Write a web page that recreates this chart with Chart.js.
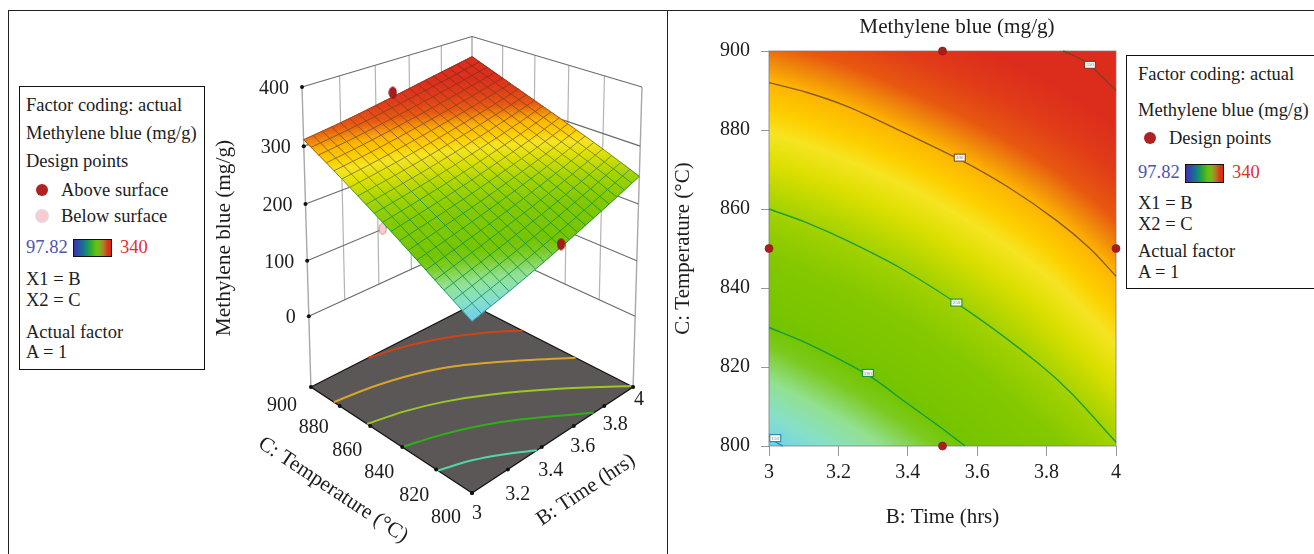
<!DOCTYPE html>
<html>
<head>
<meta charset="utf-8">
<title>Methylene blue response surface</title>
<script src="https://cdn.jsdelivr.net/npm/chart.js@4"></script>
<style>
html,body{margin:0;padding:0;background:#fff;width:1314px;height:554px;overflow:hidden}
canvas{position:absolute;top:0}
.rule{position:absolute;background:#222}
.box{position:absolute;border:1px solid #111;background:#fff;box-sizing:border-box}
.t{position:absolute;font:18.5px/20px "Liberation Serif",serif;color:#1c1c1c;white-space:nowrap;transform:translateY(-50%)}
.dot{position:absolute;width:12px;height:12px;border-radius:50%;transform:translate(-50%,-50%)}
.ramp{position:absolute;border:1px solid #111;box-sizing:border-box;background:linear-gradient(to right,#3438a8 0%,#2c50a8 14%,#108a78 32%,#30a830 45%,#66c010 60%,#78b818 68%,#b07a30 80%,#d83c18 90%,#d42818 100%)}
</style>
</head>
<body>
<canvas id="surface3d" width="667" height="554" style="left:0"></canvas>
<canvas id="contour2d" width="578" height="554" style="left:668px"></canvas>

<div class="rule" style="left:8px;top:10px;width:1306px;height:1px"></div>
<div class="rule" style="left:8px;top:10px;width:1px;height:544px"></div>
<div class="rule" style="left:667px;top:10px;width:1px;height:544px"></div>

<div class="box" style="left:19px;top:86px;width:186px;height:284px"></div>
<div class="t" style="left:26px;top:105px">Factor coding: actual</div>
<div class="t" style="left:26px;top:133px">Methylene blue (mg/g)</div>
<div class="t" style="left:26px;top:161px">Design points</div>
<div class="dot" style="left:42px;top:190px;background:#b02222"></div>
<div class="t" style="left:61px;top:190px">Above surface</div>
<div class="dot" style="left:42px;top:216px;background:#f9ccd2;box-shadow:0 0 0 1px #ddd"></div>
<div class="t" style="left:61px;top:216px">Below surface</div>
<div class="t" style="left:26px;top:247px;color:#4c54b4">97.82</div>
<div class="ramp" style="left:73px;top:239px;width:39px;height:18px"></div>
<div class="t" style="left:120px;top:247px;color:#e03030">340</div>
<div class="t" style="left:26px;top:279px">X1 = B</div>
<div class="t" style="left:26px;top:300px">X2 = C</div>
<div class="t" style="left:26px;top:332px">Actual factor</div>
<div class="t" style="left:26px;top:352px">A = 1</div>

<div class="box" style="left:1126px;top:55px;width:200px;height:234px"></div>
<div class="t" style="left:1138px;top:74px">Factor coding: actual</div>
<div class="t" style="left:1138px;top:110px">Methylene blue (mg/g)</div>
<div class="dot" style="left:1150px;top:138px;background:#b02222"></div>
<div class="t" style="left:1169px;top:138px">Design points</div>
<div class="t" style="left:1138px;top:172px;color:#4c54b4">97.82</div>
<div class="ramp" style="left:1185px;top:164px;width:39px;height:19px"></div>
<div class="t" style="left:1232px;top:172px;color:#e03030">340</div>
<div class="t" style="left:1138px;top:203px">X1 = B</div>
<div class="t" style="left:1138px;top:224px">X2 = C</div>
<div class="t" style="left:1138px;top:251px">Actual factor</div>
<div class="t" style="left:1138px;top:272px">A = 1</div>

<script>
// ---------- response values ----------
const timeTicks = [3, 3.2, 3.4, 3.6, 3.8, 4];
const tempTicks = [800, 820, 840, 860, 880, 900];
const heightTicks = [0, 100, 200, 300, 400];

const mbAt800 = [146, 163, 182, 203, 225, 248];
const mbAt820 = [181, 197, 214, 232, 252, 273];
const mbAt840 = [216, 229, 243, 259, 276, 296];
const mbAt860 = [249, 260, 272, 286, 301, 318];
const mbAt880 = [281, 290, 301, 313, 326, 340];
const mbAt900 = [311, 319, 329, 340, 351, 362];
const mbGrid = [mbAt800, mbAt820, mbAt840, mbAt860, mbAt880, mbAt900];

// contour plot (right panel)
const contourLevels = ['350', '300', '250', '200', '150'];
const c350B = [3.848, 3.916, 4];
const c350C = [900, 897, 890];
const c300B = [3, 3.11, 3.225, 3.35, 3.55, 3.69, 3.83, 3.925, 4];
const c300C = [892, 889.5, 886, 881, 872.5, 865.5, 857, 850, 843];
const c250B = [3, 3.11, 3.225, 3.38, 3.585, 3.775, 3.87, 4];
const c250C = [860, 856.5, 852, 845, 833.5, 821, 813.5, 801];
const c200B = [3, 3.11, 3.285, 3.395, 3.49, 3.565];
const c200C = [830, 826, 818, 811, 805, 800];
const c150B = [3, 3.02, 3.04];
const c150C = [802.5, 801, 800];
const contourLabelB = [3.925, 3.55, 3.54, 3.285, 3.018];
const contourLabelC = [896.5, 873, 836.3, 818.5, 802];

const designB = [3.5, 3, 4, 3.5];
const designC = [900, 850, 850, 800];

// 3D panel
const aboveB = [3.5, 3.5];
const aboveC = [900, 800];
const aboveMb = [342, 197];
const belowB = [3];
const belowC = [850];
const belowMb = [222];

// contours on the floor of the 3D panel
const floorLine1B = [3.33, 3.47, 3.61, 3.74, 3.88, 4];
const floorLine1C = [900, 896.5, 891.5, 885, 876, 866];
const floorLine2B = [3, 3.19, 3.38, 3.56, 3.75, 4];
const floorLine2C = [884, 881, 875.5, 867, 853.5, 833];
const floorLine3B = [3, 3.17, 3.34, 3.52, 3.76, 4];
const floorLine3C = [862, 857.5, 850.5, 840, 822, 801];
const floorLine4B = [3, 3.16, 3.32, 3.48, 3.73];
const floorLine4C = [840, 835, 828, 818.5, 800];
const floorLine5B = [3, 3.14, 3.26, 3.37];
const floorLine5C = [819, 814, 807.5, 800];

// ---------- colour scale ----------
const rampZ = [130, 146, 160, 175, 190, 200, 230, 250, 268, 280, 288, 300, 307, 315, 328, 342];
const rampRgb = [[96,188,236],[110,208,238],[134,224,200],[146,224,144],[124,202,32],[116,196,0],[132,200,0],[164,210,0],[220,223,0],[246,228,34],[253,208,0],[253,180,0],[240,138,10],[232,88,16],[224,60,24],[220,44,28]];
const meshZ = [146, 190, 245, 270, 300, 350];
const meshRgb = [[42,143,160],[16,152,58],[34,154,48],[122,138,32],[138,90,32],[138,42,24]];

function mapStops(z, zs, cs) {
  if (z <= zs[0]) return cs[0];
  for (let i = 1; i < zs.length; i++) {
    if (z <= zs[i]) {
      const f = (z - zs[i-1]) / (zs[i] - zs[i-1]);
      return cs[i-1].map((v, k) => v + (cs[i][k] - v) * f);
    }
  }
  return cs[cs.length - 1];
}
const rgb = c => 'rgb(' + c.map(Math.round).join(',') + ')';

// Display shading between the read grid values
function gridVal(i, j) {
  const nx = timeTicks.length, ny = tempTicks.length;
  if (j < 0) return 2 * gridVal(i, 0) - gridVal(i, 1);
  if (j >= ny) return 2 * gridVal(i, ny - 1) - gridVal(i, ny - 2);
  if (i < 0) return 2 * mbGrid[j][0] - mbGrid[j][1];
  if (i >= nx) return 2 * mbGrid[j][nx - 1] - mbGrid[j][nx - 2];
  return mbGrid[j][i];
}
const cr = (a, b, c, d, t) => 0.5 * (2*b + (c-a)*t + (2*a-5*b+4*c-d)*t*t + (3*b-a-3*c+d)*t*t*t);
function mbAt(B, C) {
  const u = (B - 3) / 0.2, v = (C - 800) / 20;
  const i = Math.max(0, Math.min(4, Math.floor(u))), j = Math.max(0, Math.min(4, Math.floor(v)));
  const tu = u - i, tv = v - j, r = [];
  for (let k = -1; k <= 2; k++) r.push(cr(gridVal(i-1, j+k), gridVal(i, j+k), gridVal(i+1, j+k), gridVal(i+2, j+k), tu));
  return cr(r[0], r[1], r[2], r[3], tv);
}

// ---------- 3D view ----------
const FLOOR = -130, SPAN = 530;
function view(B, C, Z) {
  const b = B - 3, c = (C - 800) / 100, t = (Z - FLOOR) / SPAN;
  const s = b + c, d = b - c, w = 1 + 0.146 * s - 0.06 * t;
  return { x: 472 + 184.6 * d / w, y: (493 - 49.5 * s - 349 * t) / w };
}
const zip = (B, C, Z) => B.map((v, i) => view(v, C[i], Z[i]));
const SERIF = '"Liberation Serif", serif';

function pathLine(label, pts, color, width) {
  return { label, data: pts, showLine: true, pointRadius: 0, borderColor: color, borderWidth: width, clip: false, tension: 0 };
}
function ellipseMark(fill, stroke) {
  const k = document.createElement('canvas');
  k.width = 9; k.height = 13;
  const g = k.getContext('2d');
  g.fillStyle = fill; g.strokeStyle = stroke; g.lineWidth = 1;
  g.beginPath(); g.ellipse(4.5, 6.5, 3.6, 5.6, 0, 0, 7); g.fill(); g.stroke();
  return k;
}

const ds3d = [];
const WALL_DARK = '#6a6a6a', WALL_LIGHT = '#b4b4b4';
// wall grid
timeTicks.slice(1, -1).forEach(v => ds3d.push(pathLine('wall', [view(v, 900, 0), view(v, 900, 400)], WALL_LIGHT, 1.2)));
tempTicks.slice(1, -1).forEach(v => ds3d.push(pathLine('wall', [view(4, v, 0), view(4, v, 400)], WALL_LIGHT, 1.2)));
ds3d.push(pathLine('edge', [view(3, 900, FLOOR), view(3, 900, 400)], '#a8a8a8', 1.4));
ds3d.push(pathLine('edge', [view(4, 900, FLOOR), view(4, 900, 400)], '#a8a8a8', 1.4));
ds3d.push(pathLine('edge', [view(4, 800, FLOOR), view(4, 800, 400)], '#a8a8a8', 1.4));
heightTicks.forEach(z => ds3d.push(pathLine('level', [view(3, 900, z), view(4, 900, z), view(4, 800, z)], WALL_DARK, 1.1)));
// floor
ds3d.push({ label: 'floor', data: [view(3, 800, FLOOR), view(4, 800, FLOOR), view(4, 900, FLOOR), view(3, 900, FLOOR), view(3, 800, FLOOR)],
  showLine: true, pointRadius: 0, borderColor: '#141414', borderWidth: 1.3, backgroundColor: '#5b5756', fill: 'shape', clip: false, tension: 0 });
const floorSets = [
  [floorLine1B, floorLine1C, '#cf4316'], [floorLine2B, floorLine2C, '#d8a62c'], [floorLine3B, floorLine3C, '#9cc826'],
  [floorLine4B, floorLine4C, '#2eb016'], [floorLine5B, floorLine5C, '#52d6a6']];
floorSets.forEach(f => { const d = pathLine('floor contour', zip(f[0], f[1], f[0].map(() => FLOOR)), f[2], 2); d.tension = 0.3; ds3d.push(d); });
// below-surface point, then the surface, then above-surface points and tick marks
ds3d.push({ label: 'Below surface', data: zip(belowB, belowC, belowMb), pointRadius: 6, pointStyle: ellipseMark('#f9ccd2', '#c98a92'), showLine: false, clip: false });
ds3d.push({ label: 'surface', data: [], pointRadius: 0, showLine: false, clip: false });
ds3d.push({ label: 'Above surface', data: zip(aboveB, aboveC, aboveMb), pointRadius: 6, pointStyle: ellipseMark('#a81c1c', '#7c1414'), showLine: false, clip: false });
ds3d.push({ label: 'ticks', data: heightTicks.map(z => view(3, 900, z))
    .concat(timeTicks.map(v => view(v, 800, FLOOR)))
    .concat(tempTicks.map(v => view(3, v, FLOOR))),
  pointRadius: 2, pointBackgroundColor: '#111', pointBorderWidth: 0, showLine: false, clip: false });
ds3d.forEach((d, i) => { d.order = ds3d.length - i; });

const MESH = 20, SUB = 3;
const surfacePlugin = {
  id: 'surfacePlugin',
  beforeDatasetDraw(chart, args) {
    if (chart.data.datasets[args.index].label !== 'surface') return;
    const ctx = chart.ctx, X = chart.scales.x, Y = chart.scales.y;
    const P = (B, C) => { const p = view(B, C, mbAt(B, C)); return [X.getPixelForValue(p.x), Y.getPixelForValue(p.y)]; };
    const n = MESH * SUB;
    ctx.save();
    ctx.lineWidth = 0.8;
    ctx.lineJoin = 'round';
    for (let i = n - 1; i >= 0; i--) for (let j = n - 1; j >= 0; j--) {
      const B0 = 3 + i / n, B1 = 3 + (i + 1) / n, C0 = 800 + 100 * j / n, C1 = 800 + 100 * (j + 1) / n;
      const a = P(B0, C0), b = P(B1, C0), c = P(B1, C1), d = P(B0, C1);
      const col = rgb(mapStops(mbAt((B0 + B1) / 2, (C0 + C1) / 2), rampZ, rampRgb));
      ctx.fillStyle = col; ctx.strokeStyle = col;
      ctx.beginPath(); ctx.moveTo(a[0], a[1]); ctx.lineTo(b[0], b[1]); ctx.lineTo(c[0], c[1]); ctx.lineTo(d[0], d[1]); ctx.closePath();
      ctx.fill(); ctx.stroke();
    }
    ctx.lineWidth = 0.9;
    for (let k = 0; k <= MESH; k++) for (let m = 0; m < MESH; m++) {
      const p1 = 3 + k / MESH, q0 = 800 + 100 * m / MESH, q1 = 800 + 100 * (m + 1) / MESH;
      const r0 = 3 + m / MESH, r1 = 3 + (m + 1) / MESH, s1 = 800 + 100 * k / MESH;
      const col1 = rgb(mapStops(mbAt(p1, (q0 + q1) / 2), meshZ, meshRgb));
      const a = P(p1, q0), b = P(p1, q1);
      ctx.strokeStyle = col1; ctx.beginPath(); ctx.moveTo(a[0], a[1]); ctx.lineTo(b[0], b[1]); ctx.stroke();
      const col2 = rgb(mapStops(mbAt((r0 + r1) / 2, s1), meshZ, meshRgb));
      const e = P(r0, s1), f = P(r1, s1);
      ctx.strokeStyle = col2; ctx.beginPath(); ctx.moveTo(e[0], e[1]); ctx.lineTo(f[0], f[1]); ctx.stroke();
    }
    ctx.restore();
  },
  afterDatasetsDraw(chart) {
    const ctx = chart.ctx, X = chart.scales.x, Y = chart.scales.y;
    ctx.save();
    ctx.fillStyle = '#1c1c1c';
    ctx.textBaseline = 'middle';
    ctx.font = '20px ' + SERIF;
    ctx.textAlign = 'right';
    heightTicks.forEach(z => { const p = view(3, 900, z); ctx.fillText(String(z), X.getPixelForValue(p.x) - 13, Y.getPixelForValue(p.y) + 1.5); });
    ctx.textAlign = 'center';
    const cOffX = [-26, -22, -23, -23, -26, -29], cOffY = [25, 26, 26, 25, 22, 19];
    tempTicks.forEach((v, i) => { const p = view(3, v, FLOOR); ctx.fillText(String(v), X.getPixelForValue(p.x) + cOffX[i], Y.getPixelForValue(p.y) + cOffY[i]); });
    const bOffX = [5, 10, 9, 9, 11, 6], bOffY = [21, 25, 24, 21, 19, 13];
    timeTicks.forEach((v, i) => { const p = view(v, 800, FLOOR); ctx.fillText(String(v), X.getPixelForValue(p.x) + bOffX[i], Y.getPixelForValue(p.y) + bOffY[i]); });
    const rotated = (txt, x, y, deg, size) => {
      ctx.save(); ctx.translate(x, y); ctx.rotate(deg * Math.PI / 180);
      ctx.font = size + 'px ' + SERIF; ctx.fillText(txt, 0, 0); ctx.restore();
    };
    rotated('Methylene blue (mg/g)', 224, 238, -90, 21.3);
    rotated('C: Temperature (°C)', 333, 490, 33.5, 21.3);
    rotated('B: Time (hrs)', 586, 490, -33.5, 21);
    ctx.restore();
  }
};

new Chart(document.getElementById('surface3d'), {
  type: 'scatter',
  data: { datasets: ds3d },
  plugins: [surfacePlugin],
  options: {
    responsive: false, animation: false, events: [],
    layout: { padding: 0, autoPadding: false },
    plugins: { legend: { display: false }, tooltip: { enabled: false }, title: { display: false } },
    scales: {
      x: { type: 'linear', display: false, min: 0, max: 667 },
      y: { type: 'linear', display: false, min: 0, max: 554, reverse: true }
    }
  }
});

// ---------- contour panel ----------
const contourColors = ['#8a3a20', '#8a5a24', '#1f9f38', '#129c40', '#2c8cb0'];
const contourSets = [[c350B, c350C], [c300B, c300C], [c250B, c250C], [c200B, c200C], [c150B, c150C]];
const ds2d = contourSets.map((s, i) => ({
  label: contourLevels[i], data: s[0].map((v, k) => ({ x: v, y: s[1][k] })),
  showLine: true, pointRadius: 0, borderColor: contourColors[i], borderWidth: 1.4, tension: 0.3, clip: 1
}));
ds2d.unshift({ label: 'Design points', data: designB.map((v, i) => ({ x: v, y: designC[i] })), showLine: false,
  pointRadius: 4, pointBackgroundColor: '#aa1e1e', pointBorderColor: '#801414', pointBorderWidth: 0.6, clip: false });

const heatPlugin = {
  id: 'heatPlugin',
  beforeDatasetsDraw(chart) {
    const { ctx, chartArea: a, scales: { x, y } } = chart;
    const W = Math.round(a.right - a.left), H = Math.round(a.bottom - a.top);
    const off = document.createElement('canvas');
    off.width = W; off.height = H;
    const g = off.getContext('2d'), img = g.createImageData(W, H);
    for (let r = 0; r < H; r++) for (let q = 0; q < W; q++) {
      const c = mapStops(mbAt(x.getValueForPixel(a.left + q + 0.5), y.getValueForPixel(a.top + r + 0.5)), rampZ, rampRgb);
      const o = (r * W + q) * 4;
      img.data[o] = c[0]; img.data[o+1] = c[1]; img.data[o+2] = c[2]; img.data[o+3] = 255;
    }
    g.putImageData(img, 0, 0);
    ctx.drawImage(off, a.left, a.top, W, H);
    ctx.save();
    ctx.strokeStyle = 'rgba(120,120,120,.75)';
    ctx.lineWidth = 1;
    ctx.strokeRect(a.left, a.top, W, H);
    ctx.restore();
  },
  afterDatasetsDraw(chart) {
    const { ctx, scales: { x, y } } = chart;
    ctx.save();
    ctx.textAlign = 'center'; ctx.textBaseline = 'middle';
    contourLevels.forEach((lvl, i) => {
      const px = x.getPixelForValue(contourLabelB[i]), py = y.getPixelForValue(contourLabelC[i]);
      ctx.fillStyle = '#fff'; ctx.strokeStyle = contourColors[i]; ctx.lineWidth = 1.2;
      ctx.fillRect(px - 5.5, py - 3.5, 11, 7); ctx.strokeRect(px - 5.5, py - 3.5, 11, 7);
      ctx.fillStyle = '#777'; ctx.font = '5px ' + SERIF;
      ctx.fillText(lvl, px, py + 0.3);
    });
    ctx.fillStyle = '#1c1c1c';
    ctx.font = '21.2px ' + SERIF;
    ctx.fillText('Methylene blue (mg/g)', 289, 27);
    ctx.restore();
  }
};

new Chart(document.getElementById('contour2d'), {
  type: 'scatter',
  data: { datasets: ds2d },
  plugins: [heatPlugin],
  options: {
    responsive: false, animation: false, events: [],
    layout: { padding: { left: 3, right: 130, top: 51, bottom: 24 }, autoPadding: false },
    plugins: { legend: { display: false }, tooltip: { enabled: false }, title: { display: false } },
    scales: {
      x: {
        type: 'linear', min: 3, max: 4,
        afterFit(s) { s.height = 84; },
        afterBuildTicks(s) { s.ticks = timeTicks.map(v => ({ value: v })); },
        grid: { drawOnChartArea: false, drawTicks: true, tickLength: 10, color: '#999' },
        border: { display: false },
        ticks: { maxRotation: 0, padding: 5, color: '#1c1c1c', font: { family: SERIF, size: 20 }, callback: v => String(v) },
        title: { display: true, text: 'B: Time (hrs)', color: '#1c1c1c', font: { family: SERIF, size: 21 }, padding: 0 }
      },
      y: {
        type: 'linear', min: 800, max: 900,
        afterFit(s) { s.width = 98; },
        afterBuildTicks(s) { s.ticks = tempTicks.map(v => ({ value: v })); },
        grid: { drawOnChartArea: false, drawTicks: true, tickLength: 8, color: '#999' },
        border: { display: false },
        ticks: { padding: 11, color: '#1c1c1c', font: { family: SERIF, size: 20 }, callback: v => String(v) },
        title: { display: true, text: 'C: Temperature (°C)', color: '#1c1c1c', font: { family: SERIF, size: 21 }, padding: 0 }
      }
    }
  }
});
</script>
</body>
</html>
